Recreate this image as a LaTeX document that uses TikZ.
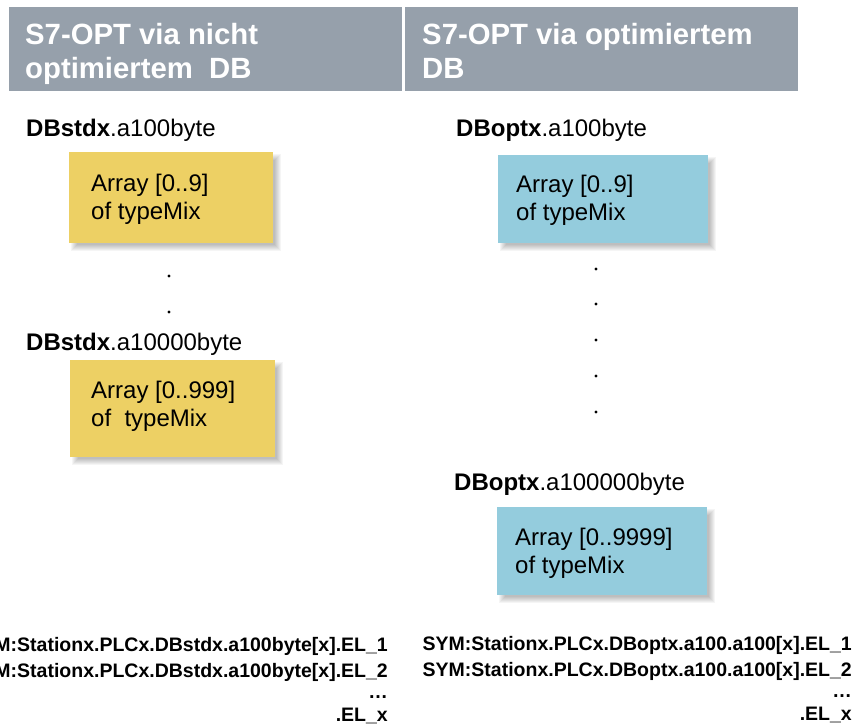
\documentclass[tikz,border=0pt]{standalone}
\usepackage{fontspec}
\setmainfont{Liberation Sans}
\definecolor{hdrgray}{RGB}{150,160,171}
\definecolor{boxyellow}{RGB}{237,208,100}
\definecolor{boxblue}{RGB}{148,204,221}
\newcommand\myshadow[4]{\foreach \s in {-3,...,3}{\fill[black,opacity=0.04] ({#1+5-\s},{#2+5-\s}) rectangle ({#3+5+\s},{#4+5+\s});}}
\tikzset{
  hdr/.style={fill=hdrgray, draw=none, inner sep=0pt, anchor=north west},
  hdrtext/.style={text=white, font=\fontsize{29.3}{34}\selectfont\bfseries, align=left, inner sep=0pt, anchor=base west},
  ybox/.style={fill=boxyellow, draw=none, inner sep=0pt, anchor=north west},
  bbox/.style={fill=boxblue, draw=none, inner sep=0pt, anchor=north west},
  boxtext/.style={font=\fontsize{24}{28}\selectfont, align=left, inner sep=0pt, anchor=base west},
  lbl/.style={font=\fontsize{24}{28}\selectfont, inner sep=0pt, anchor=base west},
  dotn/.style={circle, fill=black, inner sep=0pt, minimum size=3.4pt},
  symtext/.style={font=\fontsize{19.5}{26}\selectfont\bfseries, align=right, inner sep=0pt, anchor=base east}
}
\begin{document}
\begin{tikzpicture}[x=1pt,y=-1pt]
\useasboundingbox (0,0) rectangle (858,727);
\clip (0,0) rectangle (858,727);
\fill[white] (0,0) rectangle (858,727);

% headers
\node[hdr, minimum width=393pt, minimum height=84pt] (h1) at (9,7) {};
\node[hdr, minimum width=393pt, minimum height=84pt] (h2) at (405,7) {};
\node[hdrtext] (h1t) at (25,79) {S7-OPT via nicht\\optimiertem~~DB};
\node[hdrtext] (h2t) at (422,79) {S7-OPT via optimiertem\\DB};

% shadows
\myshadow{69}{152}{273}{243}
\myshadow{70}{360}{275}{457}
\myshadow{498}{155}{708}{243}
\myshadow{497}{507}{707}{595}

% left column
\node[lbl] (l1) at (26,137) {\textbf{DBstdx}.a100byte};
\node[ybox, minimum width=204pt, minimum height=91pt] (y1) at (69,152) {};
\node[boxtext] (y1t) at (91,219) {Array [0..9]\\of typeMix};
\node[dotn] (ld1) at (169,276) {};
\node[dotn] (ld2) at (169,312) {};
\node[lbl] (l2) at (26,350) {\textbf{DBstdx}.a10000byte};
\node[ybox, minimum width=205pt, minimum height=97pt] (y2) at (70,360) {};
\node[boxtext] (y2t) at (91,426) {Array [0..999]\\of~~typeMix};

% right column
\node[lbl] (r1) at (456,137) {\textbf{DBoptx}.a100byte};
\node[bbox, minimum width=210pt, minimum height=88pt] (b1) at (498,155) {};
\node[boxtext] (b1t) at (516,220) {Array [0..9]\\of typeMix};
\node[dotn] (rd1) at (596,269) {};
\node[dotn] (rd2) at (596,304) {};
\node[dotn] (rd3) at (596,340) {};
\node[dotn] (rd4) at (596,376) {};
\node[dotn] (rd5) at (596,412) {};
\node[lbl] (r2) at (454,490) {\textbf{DBoptx}.a100000byte};
\node[bbox, minimum width=210pt, minimum height=88pt] (b2) at (497,507) {};
\node[boxtext] (b2t) at (515,573) {Array [0..9999]\\of typeMix};

% symbol lines
\node[symtext] (s1) at (388,721) {SYM:Stationx.PLCx.DBstdx.a100byte[x].EL\_1\\SYM:Stationx.PLCx.DBstdx.a100byte[x].EL\_2\\[-5pt]…\hspace*{2pt}\\[-3pt].EL\_x};
\node[symtext] (s2) at (852,720) {SYM:Stationx.PLCx.DBoptx.a100.a100[x].EL\_1\\SYM:Stationx.PLCx.DBoptx.a100.a100[x].EL\_2\\[-5pt]…\hspace*{8pt}\\[-3pt].EL\_x};
\end{tikzpicture}
\end{document}
